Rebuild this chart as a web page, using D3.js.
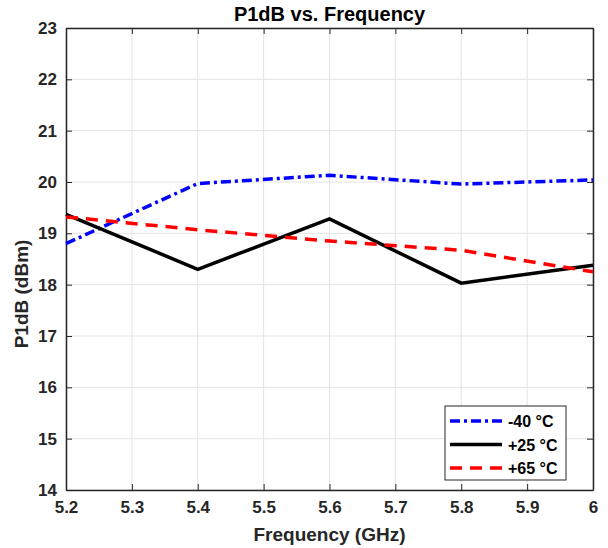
<!DOCTYPE html>
<html>
<head>
<meta charset="utf-8">
<script src="https://cdn.jsdelivr.net/npm/d3@7"></script>
<style>
  body { margin: 0; background: #fff; }
  text { font-family: "Liberation Sans", Arial, sans-serif; font-weight: bold; }
</style>
</head>
<body>
<svg id="chart"></svg>
<script>
const width = 608, height = 548;
const margin = { top: 28, right: 15, bottom: 58, left: 66 };

const freqs = [5.2, 5.4, 5.6, 5.8, 6.0];
const minus40 = [18.8, 19.97, 20.13, 19.96, 20.04];
const plus25 = [19.37, 18.3, 19.28, 18.03, 18.38];
const plus65 = [19.32, 19.07, 18.85, 18.67, 18.25];
const xTicks = [5.2, 5.3, 5.4, 5.5, 5.6, 5.7, 5.8, 5.9, 6];
const yTicks = [14, 15, 16, 17, 18, 19, 20, 21, 22, 23];

const series = [
    { name: "-40 \u00b0C", values: minus40, color: "#0000ff", dash: "10,4,3,4" },
    { name: "+25 \u00b0C", values: plus25, color: "#000000", dash: null },
    { name: "+65 \u00b0C", values: plus65, color: "#ff0000", dash: "12,8" }
];

const svg = d3.select("#chart").attr("width", width).attr("height", height);

const x = d3.scaleLinear().domain([5.2, 6]).range([margin.left, width - margin.right]);
const y = d3.scaleLinear().domain([14, 23]).range([height - margin.bottom, margin.top]);

const axisColor = "#262626";

// grid
svg.append("g")
    .selectAll("line")
    .data(xTicks)
    .join("line")
    .attr("x1", d => x(d)).attr("x2", d => x(d))
    .attr("y1", y(14)).attr("y2", y(23))
    .attr("stroke", "#e3e3e3").attr("stroke-width", 1);

svg.append("g")
    .selectAll("line")
    .data(yTicks)
    .join("line")
    .attr("y1", d => y(d)).attr("y2", d => y(d))
    .attr("x1", x(5.2)).attr("x2", x(6))
    .attr("stroke", "#e3e3e3").attr("stroke-width", 1);

// axes
const xAxis = g => {
    g.attr("transform", `translate(0,${height - margin.bottom})`)
        .call(d3.axisBottom(x).tickValues(xTicks).tickSizeInner(-6).tickSizeOuter(0)
            .tickPadding(11).tickFormat(d3.format("~g")))
        .call(g => g.selectAll("text").attr("font-size", 17).attr("fill", axisColor));
};
const yAxis = g => {
    g.attr("transform", `translate(${margin.left},0)`)
        .call(d3.axisLeft(y).tickValues(yTicks).tickSizeInner(-6).tickSizeOuter(0)
            .tickPadding(9))
        .call(g => g.selectAll("text").attr("font-size", 17).attr("fill", axisColor));
};
const xTop = g => {
    g.attr("transform", `translate(0,${margin.top})`)
        .call(d3.axisTop(x).tickValues(xTicks).tickSizeInner(-6).tickSizeOuter(0).tickFormat(""));
};
const yRight = g => {
    g.attr("transform", `translate(${width - margin.right},0)`)
        .call(d3.axisRight(y).tickValues(yTicks).tickSizeInner(-6).tickSizeOuter(0).tickFormat(""));
};

[xAxis, yAxis, xTop, yRight].forEach(a => {
    svg.append("g").call(a)
        .call(g => g.select(".domain").attr("stroke", axisColor).attr("stroke-width", 1.5))
        .call(g => g.selectAll(".tick line").attr("stroke", axisColor));
});

// lines
const line = d3.line()
    .x((d, i) => x(freqs[i]))
    .y(d => y(d));

svg.append("g")
    .selectAll("path")
    .data(series)
    .join("path")
    .attr("d", d => line(d.values))
    .attr("fill", "none")
    .attr("stroke", d => d.color)
    .attr("stroke-width", 3.5)
    .attr("stroke-dasharray", d => d.dash);

// title & labels
svg.append("text")
    .attr("x", (x(5.2) + x(6)) / 2).attr("y", 21)
    .attr("text-anchor", "middle").attr("font-size", 20).attr("fill", "#000")
    .text("P1dB vs. Frequency");

svg.append("text")
    .attr("x", (x(5.2) + x(6)) / 2).attr("y", 541)
    .attr("text-anchor", "middle").attr("font-size", 19).attr("fill", axisColor)
    .text("Frequency (GHz)");

svg.append("text")
    .attr("transform", `translate(28,${(y(14) + y(23)) / 2 + 35}) rotate(-90)`)
    .attr("text-anchor", "middle").attr("font-size", 19).attr("fill", axisColor)
    .text("P1dB (dBm)");

// legend
const legend = svg.append("g").attr("transform", "translate(445,406)");
legend.append("rect")
    .attr("width", 121).attr("height", 74)
    .attr("fill", "#fff").attr("stroke", "#262626").attr("stroke-width", 1);

const items = legend.selectAll("g.item")
    .data(series)
    .join("g")
    .attr("class", "item")
    .attr("transform", (d, i) => `translate(0,${15 + i * 23.5})`);

items.append("line")
    .attr("x1", 5).attr("x2", 57)
    .attr("stroke", d => d.color)
    .attr("stroke-width", 3.5)
    .attr("stroke-dasharray", d => d.dash);

items.append("text")
    .attr("x", 63).attr("y", 6)
    .attr("font-size", 16).attr("fill", "#000")
    .text(d => d.name);
</script>
</body>
</html>
